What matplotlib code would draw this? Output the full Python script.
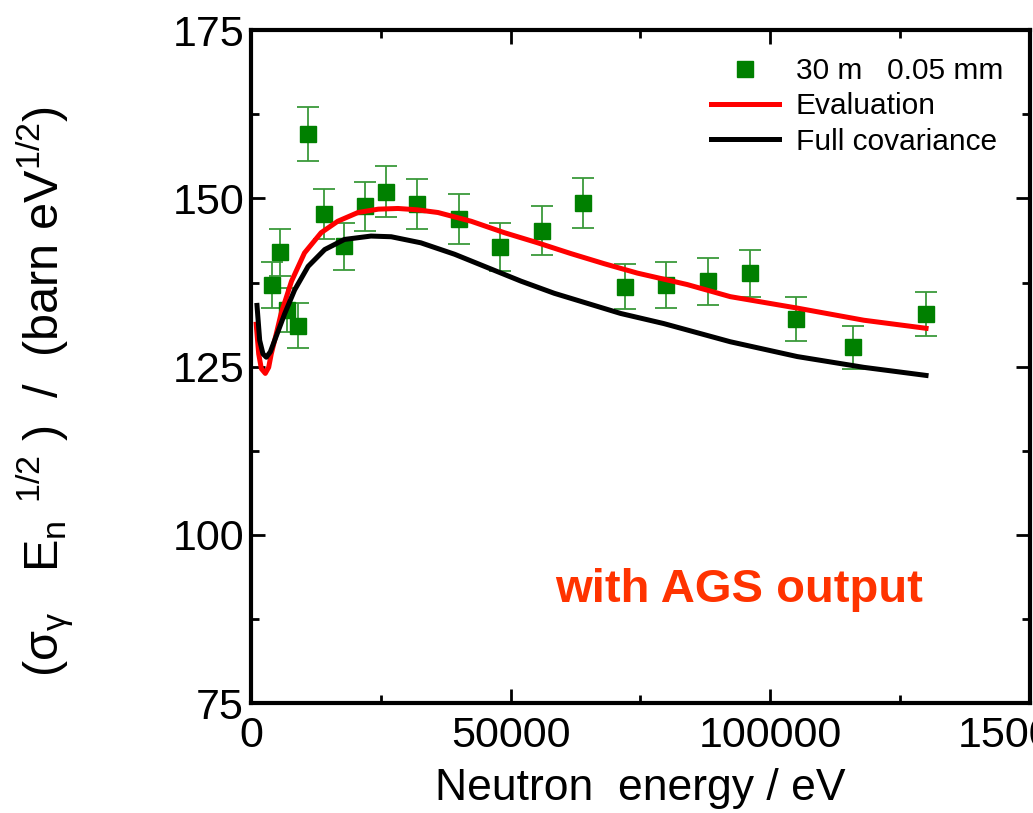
import matplotlib
matplotlib.use("Agg")
import matplotlib.pyplot as plt
from matplotlib.ticker import MultipleLocator

plt.rcParams['font.family'] = ['Liberation Sans', 'DejaVu Sans']
plt.rcParams['mathtext.fontset'] = 'custom'
plt.rcParams['mathtext.rm'] = 'Liberation Sans'
plt.rcParams['mathtext.it'] = 'Liberation Sans'

# Measured points (30 m, 0.05 mm)
energy = [4000, 5500, 7000, 9000, 11000, 14000, 18000, 22000, 26000, 32000,
          40000, 48000, 56000, 64000, 72000, 80000, 88000, 96000, 105000,
          116000, 130000]
value = [137.1, 142.0, 133.4, 131.1, 159.5, 147.7, 142.9, 148.8, 151.0, 149.2,
         146.9, 142.8, 145.2, 149.3, 136.9, 137.1, 137.7, 138.9, 132.1,
         127.9, 132.8]
error = [3.4, 3.5, 3.3, 3.3, 4.0, 3.7, 3.5, 3.7, 3.8, 3.7,
         3.7, 3.6, 3.6, 3.7, 3.4, 3.4, 3.5, 3.5, 3.3, 3.2, 3.3]

# Evaluation curve
eval_e = [1000, 1480, 1990, 2750, 3400, 3900, 4870, 5800, 7800, 10300, 13500,
          16700, 20600, 24500, 28300, 32000, 36000, 42400, 48800, 55200,
          61600, 68000, 74400, 84000, 92300, 105200, 118000, 130000]
eval_v = [131.3, 126.9, 124.7, 124.0, 124.9, 126.9, 129.9, 132.9, 137.7,
          141.9, 144.9, 146.6, 147.9, 148.4, 148.5, 148.3, 147.9, 146.6,
          144.9, 143.4, 141.8, 140.3, 138.9, 137.2, 135.4, 133.7, 131.9, 130.7]

# Full covariance curve
cov_e = [1150, 1670, 2300, 2950, 3720, 4550, 6500, 8400, 11000, 14200, 18000,
         23100, 27000, 32700, 39200, 45600, 52000, 58400, 64800, 71200, 79500,
         92300, 105200, 118000, 130000]
cov_v = [134.1, 128.9, 126.9, 126.4, 127.2, 128.9, 132.9, 136.4, 139.9, 142.4,
         143.9, 144.4, 144.3, 143.4, 141.7, 139.7, 137.7, 135.9, 134.4, 132.9,
         131.4, 128.7, 126.5, 124.9, 123.7]

fig = plt.figure(figsize=(10.33, 8.13), dpi=100)
ax = fig.add_axes([0.243, 0.135, 0.754, 0.828])

ax.errorbar(energy, value, yerr=error, fmt='none', ecolor='#3a9a3a',
            elinewidth=1.3, capsize=8, capthick=1.3, zorder=2)
ax.plot(energy, value, 's', color='#008000', markersize=11, zorder=3,
        label='30 m   0.05 mm')
ax.plot(eval_e, eval_v, color='#ff0000', linewidth=3.6, zorder=4,
        solid_joinstyle='round', label='Evaluation')
ax.plot(cov_e, cov_v, color='black', linewidth=3.6, zorder=4,
        solid_joinstyle='round', label='Full covariance')

ax.set_xlim(0, 150000)
ax.set_ylim(75, 175)
ax.xaxis.set_major_locator(MultipleLocator(50000))
ax.xaxis.set_minor_locator(MultipleLocator(25000))
ax.yaxis.set_major_locator(MultipleLocator(25))
ax.yaxis.set_minor_locator(MultipleLocator(12.5))
ax.tick_params(which='both', direction='in', top=True, right=True, width=2)
ax.tick_params(which='major', length=10)
ax.tick_params(which='minor', length=6)
ax.tick_params(axis='y', labelsize=31, pad=5)
ax.tick_params(axis='x', labelsize=31, pad=9)
for s in ax.spines.values():
    s.set_linewidth(3)

ax.set_xlabel('Neutron  energy / eV', fontsize=32, labelpad=9)
fig.text(0.044, 0.518,
         r'($\sigma_{\gamma}$   E$_{n}$$^{\;\;1/2}$ )  /  (barn eV$^{1/2}$)',
         fontsize=35, rotation=90, ha='center', va='center')

ax.text(0.627, 0.168, 'with AGS output', transform=ax.transAxes,
        color='#ff3300', fontsize=34, fontweight='bold', ha='center', va='center')

ax.legend(loc='upper right', frameon=False, handlelength=2.27,
          handletextpad=0.57, labelspacing=0.25, borderaxespad=0.5,
          prop={'size': 21.5})

plt.savefig('out.png', dpi=100)
